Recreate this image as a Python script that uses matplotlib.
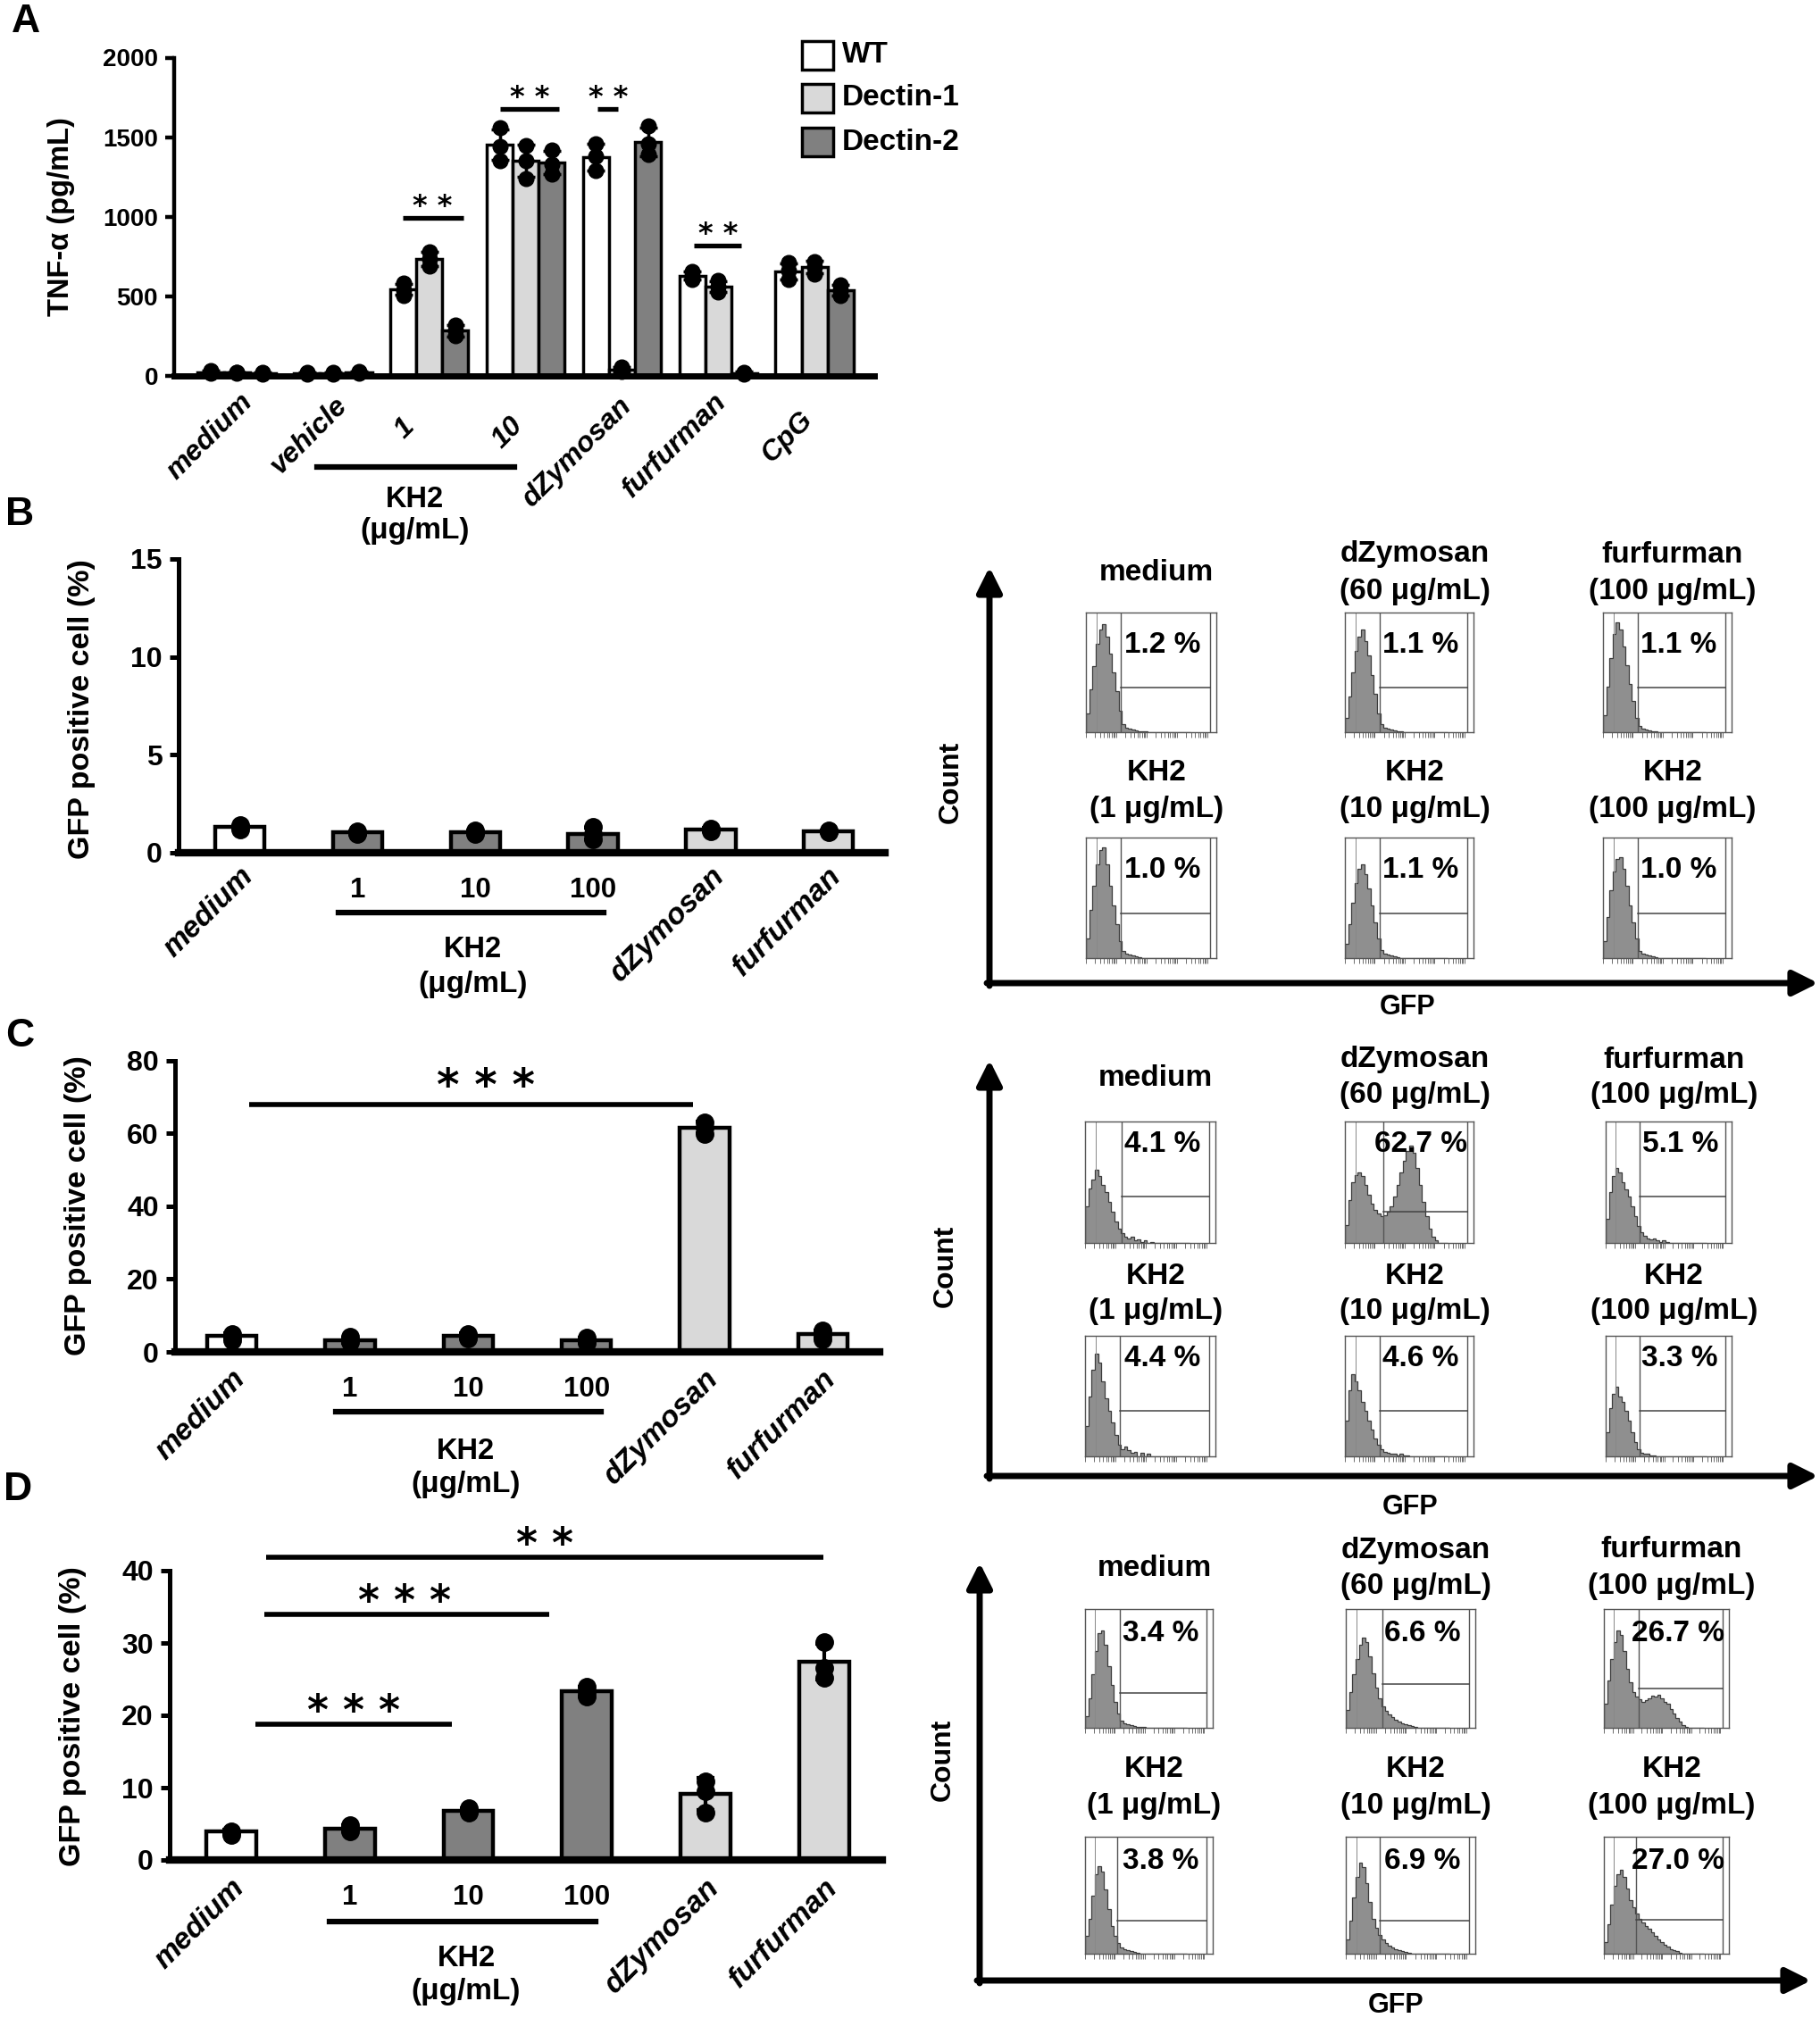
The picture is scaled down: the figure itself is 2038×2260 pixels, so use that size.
import matplotlib
matplotlib.use('Agg')
import matplotlib.pyplot as plt
import numpy as np

W, H = 2038, 2260
SANS = ['Liberation Sans', 'DejaVu Sans']
WHITE, LIGHT, DARK = 'white', '#d9d9d9', '#808080'

# ---------------- panel A : TNF-a ----------------
a_groups = ['medium', 'vehicle', '1', '10', 'dZymosan', 'furfurman', 'CpG']
a_series = ['WT', 'Dectin-1', 'Dectin-2']
a_colors = [WHITE, LIGHT, DARK]
a_wt = [25, 18, 543, 1455, 1375, 630, 658]
a_d1 = [20, 18, 736, 1352, 42, 561, 683]
a_d2 = [18, 22, 284, 1341, 1468, 18, 539]
a_wt_sd = [10, 6, 35, 95, 85, 25, 50]
a_d1_sd = [5, 4, 45, 100, 12, 35, 40]
a_d2_sd = [6, 6, 35, 75, 90, 8, 35]
a_wt_pts = [[15, 25, 35], [12, 18, 24], [505, 540, 585], [1350, 1440, 1560],
            [1290, 1380, 1460], [605, 630, 655], [605, 660, 710]]
a_d1_pts = [[15, 20, 25], [14, 18, 22], [690, 735, 780], [1240, 1350, 1450],
            [30, 42, 55], [525, 560, 600], [640, 685, 720]]
a_d2_pts = [[12, 18, 24], [15, 22, 28], [250, 285, 320], [1270, 1330, 1420],
            [1390, 1460, 1570], [10, 18, 25], [505, 540, 575]]
a_sig = [(1.72, 2.35, 993, '* *'), (2.73, 3.35, 1680, '* *'),
         (3.75, 3.96, 1680, '* *'), (4.75, 5.24, 820, '* *')]

# ---------------- panels B-D : GFP positive cells ----------------
gfp_groups = ['medium', '1', '10', '100', 'dZymosan', 'furfurman']
gfp_colors = [WHITE, DARK, DARK, DARK, LIGHT, LIGHT]

b_mean = [1.3, 1.03, 1.06, 0.98, 1.19, 1.11]
b_sd = [0.08, 0.08, 0.1, 0.3, 0.08, 0.05]
b_pts = [[1.2, 1.3, 1.4], [0.95, 1.0, 1.1], [0.95, 1.05, 1.15], [0.7, 0.95, 1.3],
         [1.1, 1.2, 1.25], [1.05, 1.1, 1.15]]
b_sig = []

c_mean = [4.3, 3.2, 4.4, 3.2, 61.6, 4.8]
c_sd = [0.9, 0.7, 0.7, 0.7, 1.6, 1.2]
c_pts = [[3.2, 4.2, 5.0], [2.8, 3.3, 4.1], [3.7, 4.3, 5.0], [2.5, 3.2, 3.9],
         [59.8, 61.5, 63.0], [3.5, 4.6, 6.0]]
c_sig = [(0.15, 3.90, 67.8, '* * *', 2.15)]

d_mean = [3.9, 4.35, 6.8, 23.3, 9.1, 27.4]
d_sd = [0.3, 0.45, 0.3, 0.7, 2.2, 2.5]
d_pts = [[3.5, 3.8, 4.0], [3.9, 4.3, 4.8], [6.5, 6.8, 7.1], [22.6, 23.2, 24.0],
         [6.6, 9.5, 10.9], [25.2, 26.5, 30.1]]
d_sig = [(0.20, 1.86, 18.8, '* * *', 1.03), (0.28, 2.68, 33.9, '* * *', 1.46),
         (0.29, 4.99, 41.8, '* *', 2.64)]

# ---------------- flow cytometry histograms (bin heights, 0.025 wide bins) ----------------
flow_titles = [['medium'], ['dZymosan', '(60 μg/mL)'], ['furfurman', '(100 μg/mL)'],
               ['KH2', '(1 μg/mL)'], ['KH2', '(10 μg/mL)'], ['KH2', '(100 μg/mL)']]
b_pct = ['1.2 %', '1.1 %', '1.1 %', '1.0 %', '1.1 %', '1.0 %']
c_pct = ['4.1 %', '62.7 %', '5.1 %', '4.4 %', '4.6 %', '3.3 %']
d_pct = ['3.4 %', '6.6 %', '26.7 %', '3.8 %', '6.9 %', '27.0 %']

b_hist = [
    [0.16, 0.36, 0.55, 0.74, 0.86, 0.90, 0.80, 0.66, 0.50, 0.34, 0.18, 0.07, 0.04, 0.03, 0.02, 0.012, 0.01, 0.008, 0.005],
    [0.12, 0.30, 0.50, 0.68, 0.80, 0.86, 0.76, 0.64, 0.48, 0.32, 0.16, 0.07, 0.04, 0.03, 0.02, 0.012, 0.01, 0.006],
    [0.14, 0.38, 0.62, 0.82, 0.92, 0.86, 0.72, 0.56, 0.40, 0.26, 0.12, 0.05, 0.03, 0.02, 0.015, 0.01, 0.008],
    [0.16, 0.40, 0.60, 0.78, 0.90, 0.92, 0.78, 0.60, 0.44, 0.28, 0.14, 0.06, 0.04, 0.03, 0.02, 0.012, 0.01],
    [0.12, 0.28, 0.46, 0.62, 0.74, 0.78, 0.70, 0.58, 0.44, 0.30, 0.16, 0.07, 0.04, 0.03, 0.02, 0.012, 0.01],
    [0.14, 0.34, 0.56, 0.72, 0.82, 0.84, 0.74, 0.60, 0.44, 0.30, 0.16, 0.06, 0.04, 0.03, 0.02, 0.012, 0.01],
]
c_hist = [
    [0.30, 0.45, 0.52, 0.60, 0.55, 0.48, 0.42, 0.34, 0.26, 0.18, 0.12, 0.08, 0.05, 0.04, 0.05, 0.02, 0.03, 0.01, 0.02, 0.0, 0.01],
    [0.15, 0.35, 0.50, 0.56, 0.58, 0.55, 0.48, 0.40, 0.32, 0.27, 0.24, 0.22, 0.23, 0.26, 0.30, 0.38, 0.48, 0.58,
     0.68, 0.76, 0.80, 0.74, 0.62, 0.48, 0.34, 0.22, 0.12, 0.05, 0.02],
    [0.20, 0.42, 0.55, 0.62, 0.58, 0.50, 0.44, 0.38, 0.30, 0.22, 0.14, 0.09, 0.06, 0.04, 0.03, 0.04, 0.02, 0.01, 0.02, 0.01],
    [0.25, 0.50, 0.72, 0.85, 0.78, 0.62, 0.48, 0.38, 0.28, 0.18, 0.10, 0.06, 0.08, 0.05, 0.03, 0.04, 0.0, 0.03, 0.0, 0.02],
    [0.30, 0.55, 0.68, 0.62, 0.55, 0.45, 0.38, 0.30, 0.22, 0.15, 0.10, 0.06, 0.04, 0.03, 0.02, 0.02, 0.01, 0.02, 0.01, 0.01],
    [0.20, 0.40, 0.52, 0.58, 0.50, 0.45, 0.38, 0.30, 0.20, 0.12, 0.06, 0.03, 0.02, 0.02, 0.01, 0.01],
]
d_hist = [
    [0.10, 0.25, 0.45, 0.65, 0.80, 0.82, 0.70, 0.52, 0.36, 0.22, 0.12, 0.06, 0.04, 0.03, 0.02, 0.015, 0.01, 0.01, 0.005],
    [0.15, 0.30, 0.45, 0.58, 0.70, 0.76, 0.72, 0.60, 0.46, 0.34, 0.25, 0.18, 0.14, 0.11, 0.09, 0.07, 0.05, 0.04, 0.03, 0.02, 0.015, 0.01],
    [0.20, 0.40, 0.58, 0.72, 0.82, 0.78, 0.65, 0.50, 0.38, 0.30, 0.26, 0.24, 0.22, 0.23, 0.25, 0.27, 0.26, 0.28, 0.25,
     0.22, 0.20, 0.16, 0.12, 0.08, 0.05, 0.02, 0.01],
    [0.15, 0.30, 0.50, 0.68, 0.75, 0.70, 0.55, 0.38, 0.24, 0.15, 0.09, 0.05, 0.04, 0.03, 0.02, 0.015, 0.01],
    [0.12, 0.28, 0.48, 0.66, 0.78, 0.74, 0.60, 0.44, 0.30, 0.22, 0.16, 0.12, 0.09, 0.07, 0.05, 0.04, 0.03, 0.02, 0.015, 0.01],
    [0.10, 0.25, 0.42, 0.58, 0.68, 0.72, 0.66, 0.56, 0.46, 0.40, 0.34, 0.30, 0.27, 0.24, 0.21, 0.18, 0.15, 0.12, 0.10,
     0.08, 0.06, 0.04, 0.03, 0.02, 0.01],
]
b_gates = [(0.27, 0.37)] * 6
c_gates = [(0.28, 0.38), (0.30, 0.26), (0.27, 0.38), (0.27, 0.38), (0.27, 0.38), (0.27, 0.38)]
d_gates = [(0.27, 0.29), (0.28, 0.37), (0.275, 0.33), (0.255, 0.28), (0.26, 0.28), (0.26, 0.29)]


def rect(x0, y0, x1, y1):
    return [x0 / W, 1 - y1 / H, (x1 - x0) / W, (y1 - y0) / H]


def to_px(box, xlim, x):
    return box[0] + (x - xlim[0]) / (xlim[1] - xlim[0]) * (box[2] - box[0])


fig = plt.figure(figsize=(W / 100, H / 100), dpi=100)
ov = fig.add_axes([0, 0, 1, 1], zorder=5)
ov.set_xlim(0, W)
ov.set_ylim(H, 0)
ov.axis('off')


def txt(x, y, s, size, **kw):
    kw.setdefault('ha', 'center')
    kw.setdefault('va', 'center')
    ov.text(x, y, s, fontsize=size, family=SANS, fontweight='bold', **kw)


def style_axis(ax, lw, tick_size):
    for s in ['top', 'right']:
        ax.spines[s].set_visible(False)
    ax.spines['left'].set_linewidth(lw)
    ax.set_xticks([])
    ax.tick_params(axis='y', direction='out', length=7, width=lw, pad=6)
    for lab in ax.get_yticklabels():
        lab.set_family(SANS)
        lab.set_fontweight('bold')
        lab.set_fontsize(tick_size)


def stars(ax, x, y, s, size, dy):
    ax.annotate(s, xy=(x, y), xytext=(0, dy), textcoords='offset points',
                ha='center', va='center', fontsize=size, family='DejaVu Sans',
                fontweight='bold', annotation_clip=False)


# ---------------- panel A ----------------
boxA = (195, 64.5, 979, 421)
xlimA = (-0.65, 6.62)
axA = fig.add_axes(rect(*boxA))
axA.set_xlim(*xlimA)
axA.set_ylim(0, 2000)
axA.set_yticks([0, 500, 1000, 1500, 2000])
bw = 0.27
xs = np.arange(len(a_groups))
for k, (mean, sd, pts, col) in enumerate(zip([a_wt, a_d1, a_d2], [a_wt_sd, a_d1_sd, a_d2_sd],
                                              [a_wt_pts, a_d1_pts, a_d2_pts], a_colors)):
    xk = xs + (k - 1) * bw
    axA.bar(xk, mean, width=bw, color=col, edgecolor='black', linewidth=2.5, zorder=2)
    axA.errorbar(xk, mean, yerr=sd, fmt='none', ecolor='black', elinewidth=2.5,
                 capsize=7, capthick=2.5, zorder=3)
    for xi, p in zip(xk, pts):
        axA.plot([xi] * len(p), p, 'o', color='black', ms=12, zorder=4, clip_on=False)
for x0, x1, y, s in a_sig:
    axA.plot([x0, x1], [y, y], color='black', lw=3.8, solid_capstyle='butt')
    stars(axA, (x0 + x1) / 2, y, s, 23, 9)
style_axis(axA, 3.2, 20)
axA.spines['bottom'].set_linewidth(5)

a_offsets = [(13, 25), (11, 29), (-21, 53), (-8, 51), (6, 29), (5, 25), (-7, 45)]
for i, (lab, (dx, dy)) in enumerate(zip(a_groups, a_offsets)):
    txt(to_px(boxA, xlimA, i) + dx, boxA[3] + dy, lab, 23, rotation=45, ha='right',
        va='center', rotation_mode='anchor', fontstyle='italic')
ov.plot([to_px(boxA, xlimA, 0.83), to_px(boxA, xlimA, 2.88)], [523, 523], color='black', lw=4.5)
txt(to_px(boxA, xlimA, 1.85), 560, 'KH2', 23.5)
txt(to_px(boxA, xlimA, 1.85), 595, '(μg/mL)', 24)
txt(69, 243, 'TNF-α (pg/mL)', 23.5, rotation=90)
txt(29, 24, 'A', 32)

# legend
for k, (name, col) in enumerate(zip(a_series, a_colors)):
    yc = [62, 110, 159][k]
    ov.add_patch(plt.Rectangle((898, yc - 16), 35, 32, facecolor=col, edgecolor='black', lw=2.5))
    txt(943, yc, name, 24, ha='left')


# ---------------- panels B-D ----------------
def gfp_panel(box, xlim, ymax, yticks, mean, sd, pts, sig, under, kh2_y, ylab_y, letter,
              rot_dy, star_size, star_dy):
    ax = fig.add_axes(rect(*box))
    ax.set_xlim(*xlim)
    ax.set_ylim(0, ymax)
    ax.set_yticks(yticks)
    x = np.arange(len(gfp_groups))
    ax.bar(x, mean, width=0.42, color=gfp_colors, edgecolor='black', linewidth=3.2, zorder=2)
    ax.errorbar(x, mean, yerr=sd, fmt='none', ecolor='black', elinewidth=3,
                capsize=7, capthick=3, zorder=3)
    for xi, p in zip(x, pts):
        ax.plot([xi] * len(p), p, 'o', color='black', ms=14, zorder=4, clip_on=False)
    for x0, x1, y, s, xs_ in sig:
        ax.plot([x0, x1], [y, y], color='black', lw=4, solid_capstyle='butt', clip_on=False)
        stars(ax, xs_, y, s, star_size, star_dy)
    style_axis(ax, 3.6, 23)
    ax.spines['bottom'].set_linewidth(6)
    for i, lab in enumerate(gfp_groups):
        xp = to_px(box, xlim, i)
        if lab.isdigit():
            txt(xp, box[3] + 42, lab, 22.5)
        else:
            txt(xp + 10, box[3] + rot_dy, lab, 24, rotation=45, ha='right', va='center',
                rotation_mode='anchor', fontstyle='italic')
    ov.plot([to_px(box, xlim, under[0]), to_px(box, xlim, under[1])], [under[2]] * 2,
            color='black', lw=4.5)
    xm = to_px(box, xlim, 1.98)
    txt(xm, kh2_y, 'KH2', 23.5)
    txt(xm, kh2_y + 38, '(μg/mL)', 24)
    txt(box[0] - 108, ylab_y, 'GFP positive cell (%)', 24.5, rotation=90)
    txt(letter[0], letter[1], letter[2], 32)
    return ax


gfp_panel((200, 626, 991, 955), (-0.52, 5.48), 15, [0, 5, 10, 15], b_mean, b_sd, b_pts, b_sig,
          (0.84, 3.09, 1022), 1064, 794, (22, 577, 'B'), 22, 35, 14)
gfp_panel((196, 1187.5, 985, 1514), (-0.48, 5.48), 80, [0, 20, 40, 60, 80], c_mean, c_sd, c_pts,
          c_sig, (0.88, 3.12, 1581), 1625, 1350, (22, 1160, 'C'), 26, 35, 14)
gfp_panel((190, 1759, 988, 2083), (-0.52, 5.49), 40, [0, 10, 20, 30, 40], d_mean, d_sd, d_pts,
          d_sig, (0.83, 3.07, 2152), 2193, 1922, (20, 1668, 'D'), 27, 33, 9)

# ---------------- flow cytometry panels ----------------
edges = np.linspace(0, 0.8, 33)
minor_pos = np.concatenate([np.log10(np.arange(1, 10) * 10.0 ** d) for d in range(5)]) / 4.3
minor_pos = minor_pos[minor_pos < 0.97]


def flow_panel(cols, rows, title_y, pct_dy, hists, gates, pcts, arrow, count_xy, gfp_xy):
    for idx in range(6):
        r, c = divmod(idx, 3)
        x0, x1 = cols[c]
        y0, y1 = rows[r]
        ax = fig.add_axes(rect(x0, y0, x1, y1))
        ax.set_xlim(0, 1)
        ax.set_ylim(0, 1)
        vals = np.pad(np.array(hists[idx], dtype=float), (0, 32 - len(hists[idx])))
        ax.stairs(vals, edges, fill=True, color='#8f8f8f', lw=0)
        ax.stairs(vals, edges, color='#3c3c3c', lw=0.9)
        gx, gy = gates[idx]
        ax.axvline(0.08, color='#888888', lw=0.7)
        ax.axvline(gx, color='#555555', lw=1.0)
        ax.axvline(0.95, color='#555555', lw=1.0)
        ax.plot([gx, 0.95], [gy, gy], color='#444444', lw=1.1)
        for s in ax.spines.values():
            s.set_linewidth(1.0)
            s.set_color('#555555')
        ax.set_yticks([])
        ax.set_xticks([])
        ax.set_xticks(minor_pos, minor=True)
        ax.tick_params(axis='x', which='minor', length=4, width=0.6, color='#555555',
                       labelbottom=False)
        xc = (x0 + x1) / 2 + 6
        t = flow_titles[idx]
        ty0, ty1 = title_y[r]
        if len(t) == 1:
            txt(xc, (ty0 + ty1) / 2, t[0], 24)
        else:
            txt(xc, ty0, t[0], 24)
            txt(xc, ty1, t[1], 24)
        txt(x0 + 0.59 * (x1 - x0), y0 + pct_dy * (y1 - y0), pcts[idx], 24)
    ax_x, y_tip, y_bot, x_tip = arrow
    aprops = dict(arrowstyle='-|>', lw=5, color='black', mutation_scale=42, shrinkA=0, shrinkB=0)
    ov.annotate('', xy=(ax_x, y_tip), xytext=(ax_x, y_bot + 3), arrowprops=aprops)
    ov.annotate('', xy=(x_tip, y_bot), xytext=(ax_x - 3, y_bot), arrowprops=aprops)
    txt(count_xy[0], count_xy[1], 'Count', 23, rotation=90)
    txt(gfp_xy[0], gfp_xy[1], 'GFP', 22)


flow_panel([(1216, 1362), (1506, 1650), (1795, 1939)], [(686, 820), (938, 1073)],
           [(621, 662), (865, 906)], 0.27, b_hist, b_gates, b_pct,
           (1108, 635, 1101, 2036), (1065, 876), (1576, 1128))
flow_panel([(1215, 1361), (1506, 1650), (1798, 1939)], [(1256, 1392), (1496, 1631)],
           [(1187, 1227), (1429, 1468)], 0.19, c_hist, c_gates, c_pct,
           (1108, 1187, 1653, 2036), (1059, 1418), (1579, 1688))
flow_panel([(1215, 1358), (1507, 1652), (1796, 1936)], [(1802, 1935), (2057, 2188)],
           [(1736, 1777), (1982, 2023)], 0.21, d_hist, d_gates, d_pct,
           (1097, 1750, 2218, 2028), (1056, 1971), (1563, 2246))

fig.savefig('out.png', dpi=100)
